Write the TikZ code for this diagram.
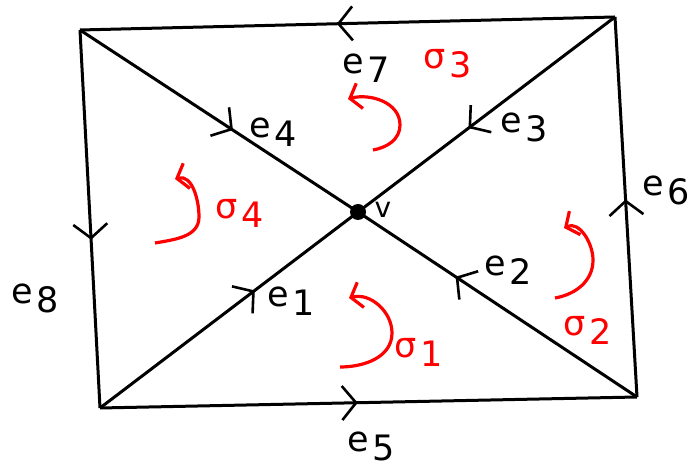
\documentclass[tikz,border=0pt]{standalone}
\usepackage{fontspec}
\setmainfont{DejaVu Sans}
\usetikzlibrary{arrows.meta,decorations.markings}
\newcommand{\lbl}[2]{#1\kern4pt\raisebox{-9pt}{#2}}
\tikzset{
  x=1pt,y=1pt,
  edge/.style={line width=3pt, black},
  midarrow/.style={postaction={decorate},decoration={markings,
     mark=at position #1 with {\arrow[line width=2.6pt]{Straight Barb[length=14pt,width=34pt]}}}},
  redarc/.style={red, line width=3.2pt, -{Straight Barb[length=10pt,width=26pt]}},
  lab/.style={inner sep=0pt, font=\fontsize{35}{37}\selectfont},
  rlab/.style={lab, text=red}
}
\begin{document}
\begin{tikzpicture}
\useasboundingbox (0,0) rectangle (692,468);
\coordinate (TL) at (80,438);
\coordinate (TR) at (615,451);
\coordinate (BR) at (637,71);
\coordinate (BL) at (100,60);
\node[circle, fill=black, inner sep=0pt, minimum size=16pt] (v) at (358,256) {};
% outer edges
\draw[edge, midarrow=0.52] (TR) -- (TL);
\draw[edge, midarrow=0.555] (TL) -- (BL);
\draw[edge, midarrow=0.48] (BL) -- (BR);
\draw[edge, midarrow=0.52] (BR) -- (TR);
% diagonals
\draw[edge, midarrow=0.6] (BL) -- (v.center);
\draw[edge, midarrow=0.65] (BR) -- (v.center);
\draw[edge, midarrow=0.57] (TR) -- (v.center);
\draw[edge, midarrow=0.55] (TL) -- (v.center);
% labels
\node[lab] (e7) at (366,400) {\lbl{e}{7}};
\node[lab] (e4) at (273,336) {\lbl{e}{4}};
\node[lab] (e3) at (524,341) {\lbl{e}{3}};
\node[lab, font=\fontsize{28}{30}\selectfont] (vl) at (383,258) {v};
\node[lab, anchor=west] (e6) at (642,278) {\lbl{e}{6}};
\node[lab] (e8) at (35,170) {\lbl{e}{8}};
\node[lab] (e2) at (508,198) {\lbl{e}{2}};
\node[lab] (e1) at (291,167) {\lbl{e}{1}};
\node[lab] (e5) at (371,22) {\lbl{e}{5}};
\node[rlab] (s3) at (448,404) {\lbl{σ}{3}};
\node[rlab] (s4) at (240,255) {\lbl{σ}{4}};
\node[rlab] (s2) at (588,138) {\lbl{σ}{2}};
\node[rlab] (s1) at (419,116) {\lbl{σ}{1}};
% red rotation arrows
\draw[redarc] (373,318) to[out=10,in=-90] (400,343) to[out=90,in=15] (348,369);
\draw[redarc] (155,225) to[out=10,in=-90] (199,251) to[out=90,in=15] (175,289);
\draw[redarc] (340,101) to[out=0,in=-90] (392,135) to[out=90,in=15] (349,170);
\draw[redarc] (555,170) to[out=10,in=-90] (593,208) to[out=90,in=25] (564,240);
\end{tikzpicture}
\end{document}
